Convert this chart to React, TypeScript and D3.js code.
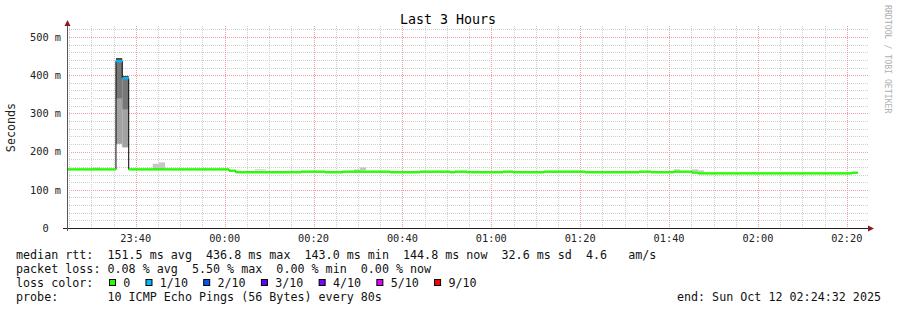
import React from 'react';
import * as d3 from 'd3';

const W = 897;
const H = 310;
const DAY1 = '2025-10-11';
const DAY2 = '2025-10-12';
const startTime = '23:24:32';
const endTime = '02:24:32';

// median rtt steps (ms), start times, loss index per step
const medianStarts = ['23:24:32', '23:35:33', '23:36:58', '23:38:25', '00:01:00', '00:02:30', '00:17:11', '00:22:35', '00:26:34', '00:37:13', '00:43:58', '00:50:45', '00:51:50', '00:54:32', '01:02:38', '01:04:53', '01:11:50', '01:21:05', '01:33:14', '01:35:56', '01:41:08', '01:45:08', '01:46:32', '02:21:08'];
const medianMs = [153.4, 436.8, 392.0, 153.4, 150.0, 146.0, 147.5, 146.0, 147.5, 146.0, 147.5, 146.0, 147.5, 146.0, 147.5, 146.0, 147.5, 146.0, 147.5, 146.0, 147.5, 145.0, 143.0, 144.8];
const medianLoss = [0, 1, 1, 0, 0, 0, 0, 0, 0, 0, 0, 0, 0, 0, 0, 0, 0, 0, 0, 0, 0, 0, 0, 0];
const medianEnd = '02:22:26';

// smoke bands (ms)
const smokeStarts = ['23:35:33', '23:35:33', '23:35:33', '23:36:58', '23:36:58', '23:36:58', '23:30:23', '23:43:49', '23:45:14', '00:06:50', '00:29:07', '00:30:28', '01:41:06', '01:45:10', '01:46:34'];
const smokeEnds = ['23:36:58', '23:36:58', '23:36:58', '23:38:25', '23:38:25', '23:38:25', '23:31:58', '23:45:14', '23:46:35', '00:09:19', '00:30:28', '00:31:49', '01:42:28', '01:46:34', '01:47:52'];
const smokeLoMs = [220.4, 338.5, 438.7, 211.0, 309.7, 395.0, 153.0, 152.6, 152.6, 150.8, 148.0, 150.8, 150.0, 148.0, 146.6];
const smokeHiMs = [338.5, 438.7, 445.0, 309.7, 395.0, 398.0, 158.5, 168.3, 171.7, 153.4, 153.4, 158.6, 153.4, 153.4, 150.8];
const smokeShade = ['#a2a2a2', '#777777', '#4a4a4a', '#a2a2a2', '#777777', '#4a4a4a', '#c6c6c6', '#c6c6c6', '#c6c6c6', '#c6c6c6', '#c6c6c6', '#c6c6c6', '#c6c6c6', '#c6c6c6', '#c6c6c6'];

const lossLabels = ['0', '1/10', '2/10', '3/10', '4/10', '5/10', '9/10'];
const lossColors = ['#26ff00', '#00b8ff', '#0059ff', '#5e00ff', '#7e00ff', '#dd00ff', '#ff0000'];

const yTickMs = [0, 100, 200, 300, 400, 500];
const xTickLabels = ['23:40', '00:00', '00:20', '00:40', '01:00', '01:20', '01:40', '02:00', '02:20'];

const title = 'Last 3 Hours';
const yTitle = 'Seconds';
const statsLine1 = 'median rtt:  151.5 ms avg  436.8 ms max  143.0 ms min  144.8 ms now  32.6 ms sd  4.6   am/s';
const statsLine2 = 'packet loss: 0.08 % avg  5.50 % max  0.00 % min  0.00 % now';
const lossTitle = 'loss color:';
const probeLine = 'probe:       10 ICMP Echo Pings (56 Bytes) every 80s';
const endLine = 'end: Sun Oct 12 02:24:32 2025';
const watermark = 'RRDTOOL / TOBI OETIKER';

const parseT = d3.timeParse('%Y-%m-%d %H:%M:%S');
const toDate = (s: string) => parseT((+s.slice(0, 2) >= 12 ? DAY1 : DAY2) + ' ' + s) as Date;

const FONT = '"DejaVu Sans Mono", monospace';
const CW = 7.08;

export default function App() {
  const x = d3.scaleTime().domain([toDate(startTime), toDate(endTime)]).range([67, 867]);
  const y = d3.scaleLinear().domain([0, 523.6]).range([228, 28]);
  const px = (v: number) => Math.round(v) + 0.5;

  const gridTimes = x.ticks(d3.timeMinute.every(5) as any);
  const gridVals = d3.range(20, 521, 20);

  const pts: [number, number][] = medianStarts.map((s, i) => [x(toDate(s)), y(medianMs[i])]);
  pts.push([x(toDate(medianEnd)), y(medianMs[medianMs.length - 1])]);
  const stepLine = d3.line().curve(d3.curveStepAfter)(pts) || '';

  // legend box layout
  const legendItems: { bx: number; lx: number; label: string; color: string }[] = [];
  let bx = 109;
  lossLabels.forEach((lab, i) => {
    const lx = bx + 14.3;
    legendItems.push({ bx, lx, label: lab, color: lossColors[i] });
    bx = lx + lab.length * CW + 15.1;
  });

  return (
    <svg width={W} height={H} style={{ display: 'block', position: 'absolute', left: 0, top: 0 }} fontFamily={FONT}>
      <rect x={0} y={0} width={W} height={H} fill="#ffffff" />
      {/* grid */}
      {gridVals.map((v) => (
        <line key={'h' + v} x1={67} x2={868} y1={px(y(v))} y2={px(y(v))}
          stroke={v % 100 === 0 ? '#f0a0a0' : '#cfcfcf'} strokeDasharray="1 1" strokeWidth={1} />
      ))}
      {gridTimes.map((t, i) => {
        const major = t.getMinutes() % 20 === 0;
        return (
          <line key={'v' + i} x1={px(x(t))} x2={px(x(t))} y1={26} y2={228}
            stroke={major ? '#f0a0a0' : '#cfcfcf'} strokeDasharray="1 1" strokeWidth={1} />
        );
      })}
      {/* smoke */}
      {smokeStarts.map((s, i) => {
        const x0 = x(toDate(s));
        const x1 = x(toDate(smokeEnds[i]));
        const y0 = y(smokeHiMs[i]);
        const y1 = y(smokeLoMs[i]);
        return <rect key={'s' + i} x={x0} y={y0} width={x1 - x0} height={y1 - y0} fill={smokeShade[i]} />;
      })}
      {/* median */}
      <path d={stepLine} fill="none" stroke="#000" strokeWidth={1} />
      {medianStarts.map((s, i) => {
        const x0 = x(toDate(s));
        const x1 = x(toDate(i + 1 < medianStarts.length ? medianStarts[i + 1] : medianEnd));
        const yc = y(medianMs[i]);
        return <rect key={'m' + i} x={x0} y={yc - 1.2} width={x1 - x0} height={2.4} fill={lossColors[medianLoss[i]]} />;
      })}
      {/* axes */}
      <line x1={63} x2={868} y1={228.5} y2={228.5} stroke="#222" strokeWidth={1} />
      <line x1={67.5} x2={67.5} y1={231} y2={26} stroke="#555" strokeWidth={1} />
      <path d="M64.5,26 L70.5,26 L67.5,20 Z" fill="#8b1a1a" />
      <path d="M868,225.5 L868,231.5 L874,228.5 Z" fill="#8b1a1a" />
      {/* y labels */}
      {yTickMs.map((v) => (
        <text key={'yl' + v} x={61} y={y(v) + 3.7} textAnchor="end" fontSize={10.3} fill="#222" style={{ whiteSpace: 'pre' }}>
          {v === 0 ? '0  ' : `${v} m`}
        </text>
      ))}
      {/* x labels */}
      {xTickLabels.map((l) => (
        <text key={'xl' + l} x={x(toDate(l + ':00'))} y={241.5} textAnchor="middle" fontSize={10.3} fill="#222">{l}</text>
      ))}
      {/* titles */}
      <text x={448} y={23.5} textAnchor="middle" fontSize={13.3} fill="#000">{title}</text>
      <text transform="translate(15,127.5) rotate(-90)" textAnchor="middle" fontSize={11.7} fill="#222">{yTitle}</text>
      <text transform="translate(885,5) rotate(90)" fontSize={8.2} fill="#b0b0b0">{watermark}</text>
      {/* legend */}
      <text x={16} y={258.5} fontSize={11.7} fill="#111" style={{ whiteSpace: 'pre' }}>{statsLine1}</text>
      <text x={16} y={272.5} fontSize={11.7} fill="#111" style={{ whiteSpace: 'pre' }}>{statsLine2}</text>
      <text x={16} y={286.5} fontSize={11.7} fill="#111" style={{ whiteSpace: 'pre' }}>{lossTitle}</text>
      {legendItems.map((it) => (
        <g key={'lg' + it.label}>
          <rect x={it.bx + 0.5} y={279.5} width={6} height={6} fill={it.color} stroke="#000" strokeWidth={1} />
          <text x={it.lx} y={286.5} fontSize={11.7} fill="#111">{it.label}</text>
        </g>
      ))}
      <text x={16} y={300.5} fontSize={11.7} fill="#111" style={{ whiteSpace: 'pre' }}>{probeLine}</text>
      <text x={881} y={300.5} textAnchor="end" fontSize={11.7} fill="#111" style={{ whiteSpace: 'pre' }}>{endLine}</text>
    </svg>
  );
}
